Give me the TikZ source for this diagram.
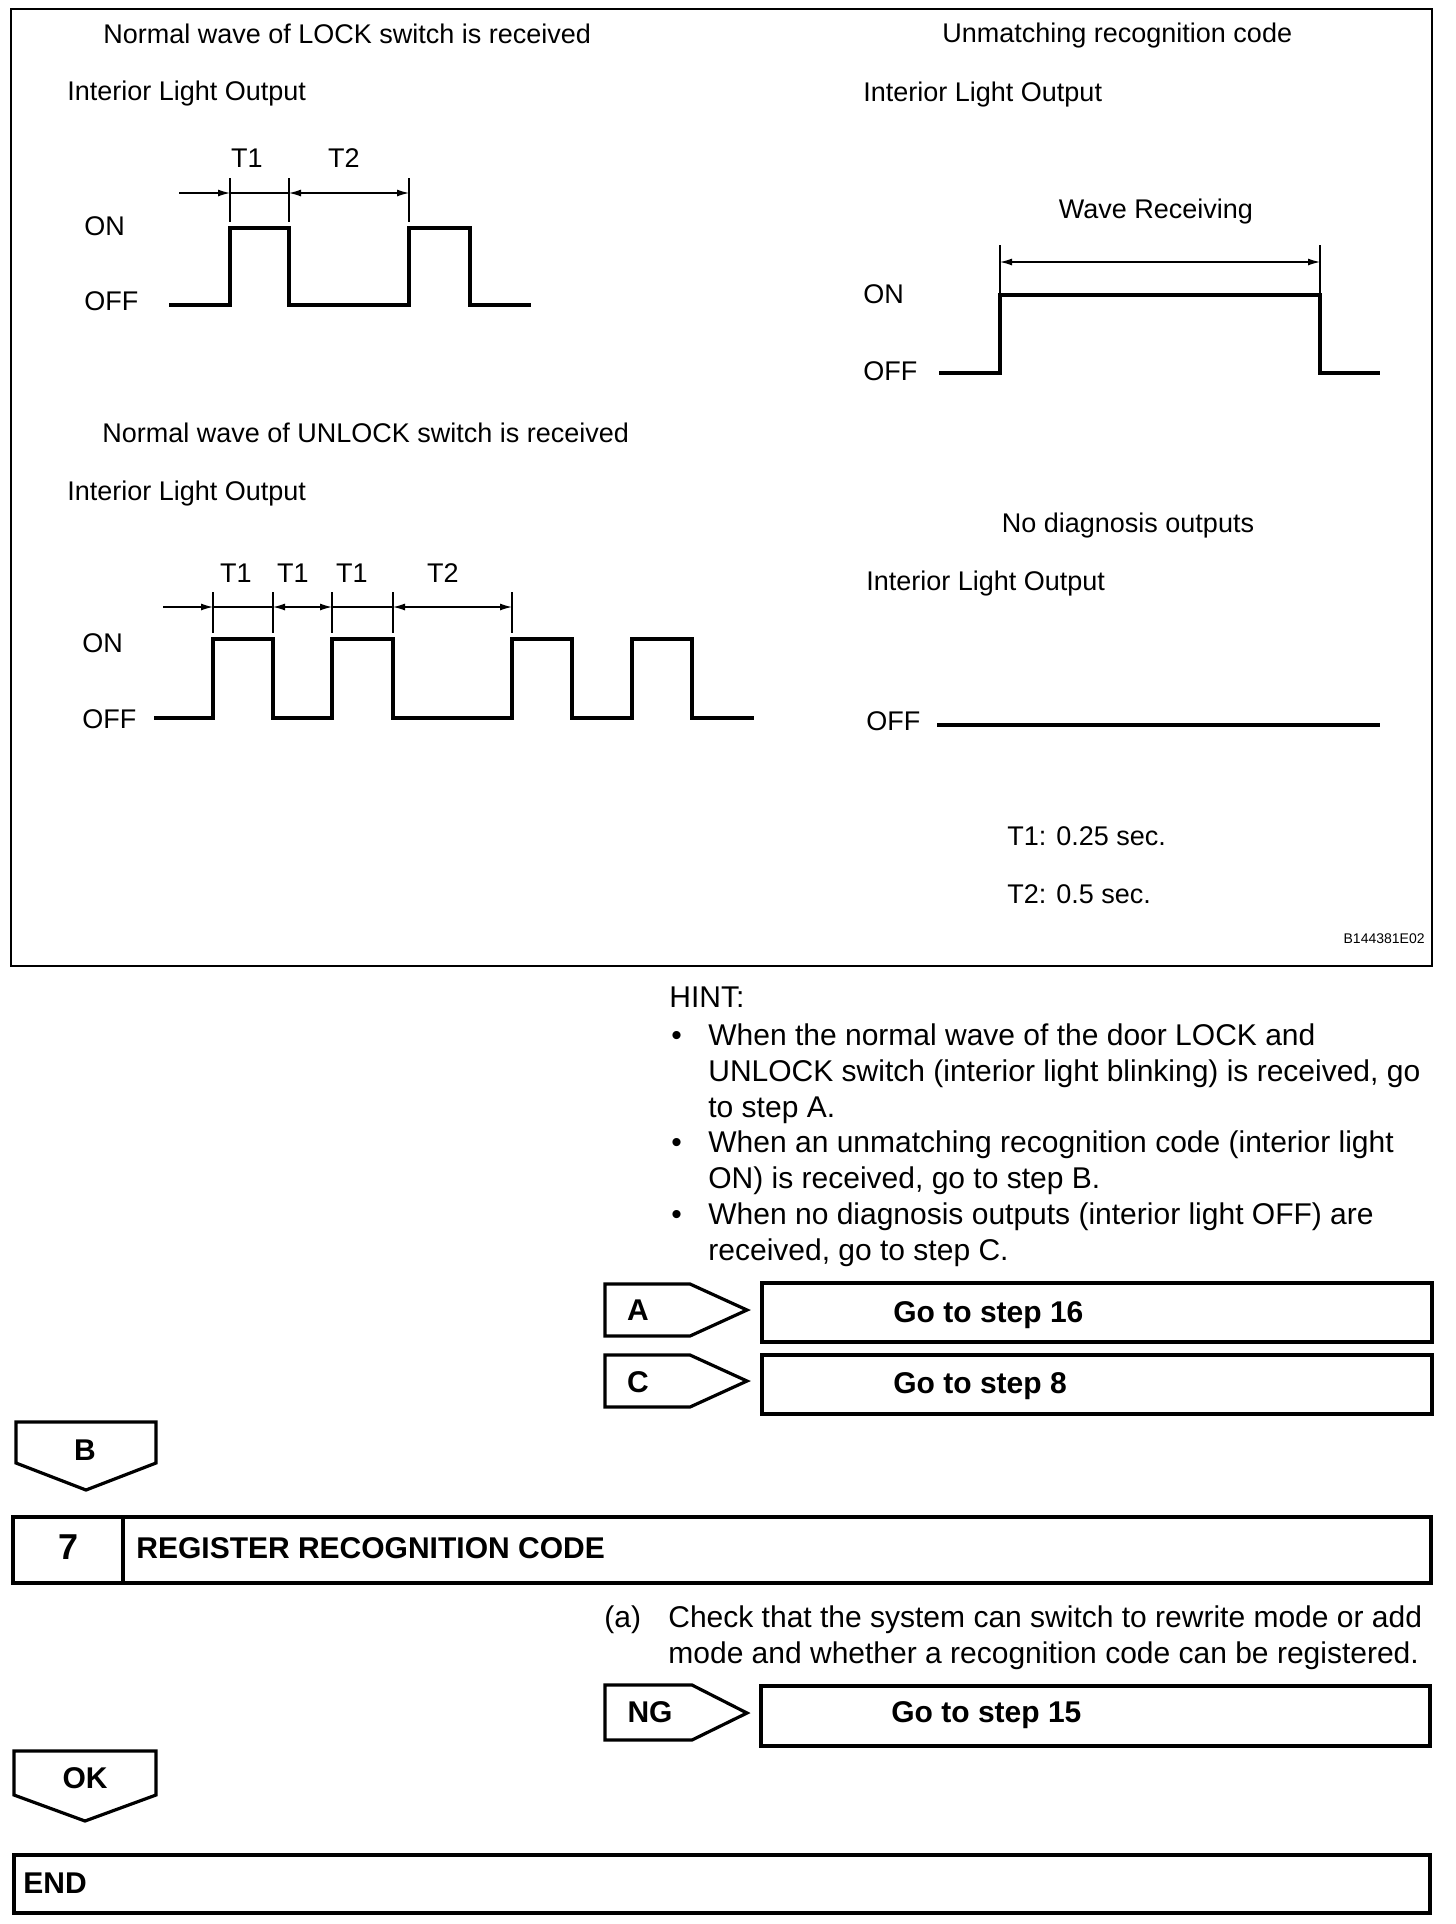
\documentclass[tikz,border=0pt]{standalone}
\usepackage{fontspec}
\setmainfont{Liberation Sans}
\usetikzlibrary{arrows.meta,positioning}
\newcommand{\panelsize}{\fontsize{13.5}{16}\selectfont}
\newcommand{\bodysize}{\fontsize{15}{18}\selectfont}

\begin{document}
\begin{tikzpicture}[x=0.5pt,y=-0.5pt,>={Latex[length=6pt,width=3.5pt]},
  txt/.style={inner sep=0pt,font=\panelsize,anchor=base west},
  ctr/.style={inner sep=0pt,font=\panelsize,anchor=base},
  body/.style={inner sep=0pt,font=\bodysize,anchor=base west},
  para/.style={inner sep=0pt,font=\bodysize,anchor=north west,align=left},
  bold/.style={inner sep=0pt,font=\bodysize\bfseries,anchor=base west},
  tagtext/.style={inner sep=0pt,font=\bodysize\bfseries,anchor=base},
  wave/.style={line width=2.2pt},
  dim/.style={line width=0.6pt},
  box/.style={line width=1.6pt}]
\useasboundingbox (0,0) rectangle (1456,1924);
\draw[line width=1pt] (11,9) rectangle (1432,966);

\node[txt] (lockT) at (103,43) {Normal wave of LOCK switch is received};
\node[txt] (lockO) at (67,100) {Interior Light Output};
\node[ctr] (lockA) at (247,167) {T1}; \node[ctr] (lockB) at (344,167) {T2};
\node[txt] (lockOn) at (84,235) {ON}; \node[txt] (lockOff) at (84,310) {OFF};
\coordinate (ls) at (179,193); \coordinate (l1) at (230,193);
\coordinate (l2) at (289,193); \coordinate (l3) at (409,193);
\foreach \x in {230,289,409} \draw[dim] (\x,178) -- (\x,222);
\draw[dim,->] (ls) -- (l1); \draw[dim] (l1) -- (l2); \draw[dim,<->] (l2) -- (l3);
\draw[wave] (169,305) -- (230,305) -- (230,228) -- (289,228) -- (289,305) -- (409,305)
  -- (409,228) -- (470,228) -- (470,305) -- (531,305);

\node[txt] (unlT) at (102,442) {Normal wave of UNLOCK switch is received};
\node[txt] (unlO) at (67,500) {Interior Light Output};
\foreach \x/\t [count=\i] in {236/T1,293/T1,352/T1,443/T2}
  \node[ctr] (unl\i) at (\x,582) {\t};
\node[txt] (unlOn) at (82,652) {ON}; \node[txt] (unlOff) at (82,728) {OFF};
\coordinate (us) at (163,607); \coordinate (u1) at (213,607); \coordinate (u2) at (273,607);
\coordinate (u3) at (332,607); \coordinate (u4) at (393,607); \coordinate (u5) at (512,607);
\foreach \x in {213,273,332,393,512} \draw[dim] (\x,592) -- (\x,633);
\draw[dim,->] (us) -- (u1); \draw[dim] (u1) -- (u2); \draw[dim,<->] (u2) -- (u3);
\draw[dim] (u3) -- (u4); \draw[dim,<->] (u4) -- (u5);
\draw[wave] (154,718) -- (213,718) -- (213,639) -- (273,639) -- (273,718) -- (332,718)
  -- (332,639) -- (393,639) -- (393,718) -- (512,718) -- (512,639) -- (572,639)
  -- (572,718) -- (632,718) -- (632,639) -- (692,639) -- (692,718) -- (754,718);

\node[txt] (umT) at (942,42) {Unmatching recognition code};
\node[txt] (umO) at (863,101) {Interior Light Output};
\node[ctr] (umW) at (1156,218) {Wave Receiving};
\node[txt] (umOn) at (863,303) {ON}; \node[txt] (umOff) at (863,380) {OFF};
\coordinate (w1) at (1000,262); \coordinate (w2) at (1320,262);
\foreach \x in {1000,1320} \draw[dim] (\x,245) -- (\x,293);
\draw[dim,<->] (w1) -- (w2);
\draw[wave] (939,373) -- (1000,373) -- (1000,295) -- (1320,295) -- (1320,373) -- (1380,373);

\node[ctr] (ndT) at (1128,532) {No diagnosis outputs};
\node[txt] (ndO) at (866,590) {Interior Light Output};
\node[txt] (ndOff) at (866,730) {OFF};
\draw[wave] (937,725) -- (1380,725);
\node[txt] (t1) at (1007,845) {T1: 0.25 sec.};
\node[txt] (t2) at (1007,903) {T2: 0.5 sec.};
\node[inner sep=0pt,font=\fontsize{7}{8}\selectfont,anchor=base east] (code) at (1425,943) {B144381E02};

\node[body] (hint) at (669,1007) {HINT:};
\foreach \y in {1045,1152,1224} \node[body] at (671,\y) {•};
\node[para] (h1) at (708,1023.5) {When the normal wave of the door LOCK and\\UNLOCK switch (interior light blinking) is received, go\\to step A.};
\node[para] (h2) at (708,1130.5) {When an unmatching recognition code (interior light\\ON) is received, go to step B.};
\node[para] (h3) at (708,1202.5) {When no diagnosis outputs (interior light OFF) are\\received, go to step C.};

\draw[box] (605,1284) -- (690,1284) -- (747,1310) -- (690,1336) -- (605,1336) -- cycle;
\node[tagtext] (tagA) at (638,1320) {A};
\draw[box] (762,1283) rectangle (1432,1342);
\node[bold] (go16) at (893,1322) {Go to step 16};
\draw[box] (605,1355) -- (690,1355) -- (747,1381) -- (690,1407) -- (605,1407) -- cycle;
\node[tagtext] (tagC) at (638,1392) {C};
\draw[box] (762,1355) rectangle (1432,1414);
\node[bold] (go8) at (893,1393) {Go to step 8};

\draw[box] (16,1422) -- (156,1422) -- (156,1463) -- (86,1490) -- (16,1463) -- cycle;
\node[tagtext] (tagB) at (85,1460) {B};

\draw[box] (13,1517) rectangle (1431,1583); \draw[box] (123,1517) -- (123,1583);
\node[inner sep=0pt,font=\fontsize{18}{20}\selectfont\bfseries,anchor=base] (num) at (69,1559) {7};
\node[bold] (title) at (136,1558) {REGISTER RECOGNITION CODE};

\node[body] (stepA) at (604,1627) {(a)};
\node[para] (check) at (668,1605.5) {Check that the system can switch to rewrite mode or add\\mode and whether a recognition code can be registered.};

\draw[box] (605,1685) -- (692,1685) -- (747,1713) -- (692,1740) -- (605,1740) -- cycle;
\node[tagtext] (tagNG) at (650,1722) {NG};
\draw[box] (761,1686) rectangle (1430,1746);
\node[bold] (go15) at (891,1722) {Go to step 15};

\draw[box] (14,1751) -- (156,1751) -- (156,1795) -- (85,1821) -- (14,1795) -- cycle;
\node[tagtext] (tagOK) at (85,1788) {OK};

\draw[box] (14,1855) rectangle (1430,1913);
\node[bold] (fin) at (23,1893) {END};
\end{tikzpicture}
\end{document}
